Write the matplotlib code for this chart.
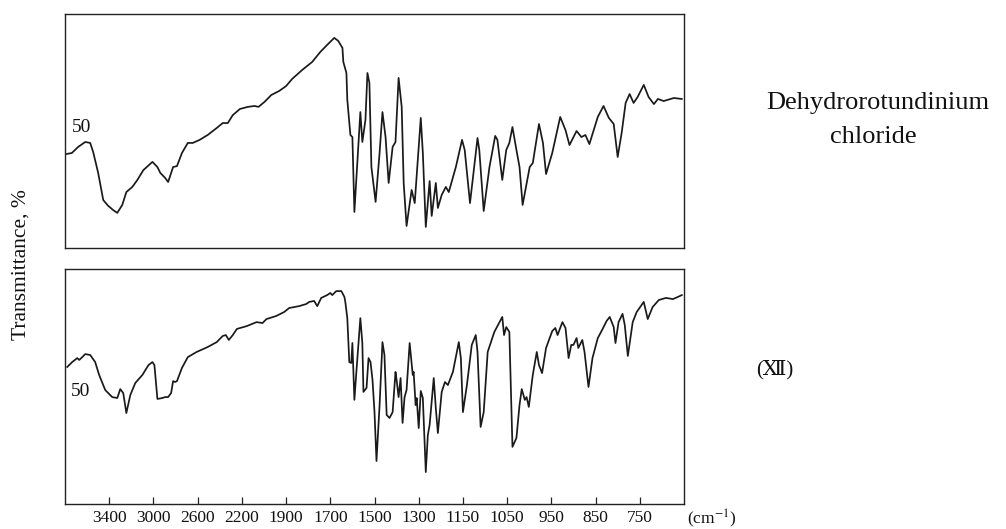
import numpy as np
import matplotlib
matplotlib.use("Agg")
import matplotlib.pyplot as plt

plt.rcParams["mathtext.fontset"] = "stix"

# ---- axis (piecewise grating scale, evenly spaced ticks) ----
tick_wn = [3400, 3000, 2600, 2200, 1900, 1700, 1500, 1300, 1150, 1050, 950, 850, 750]
scale_wn = [3800] + tick_wn + [650]
tick_labels = [str(t) for t in tick_wn]

# ---- upper spectrum ----
top_wn = [3783, 3738, 3681, 3617, 3572, 3545, 3500, 3454, 3409, 3364, 3327, 3282, 3245, 3191,
          3145, 3091, 3009, 2964, 2938, 2893, 2867, 2822, 2787, 2742, 2689, 2644, 2582, 2509,
          2427, 2373, 2327, 2282, 2218, 2160, 2113, 2087, 2047, 2000, 1947, 1900, 1873, 1827,
          1782, 1745, 1714, 1682, 1664, 1645, 1641, 1627, 1623, 1609, 1600, 1591, 1577, 1564,
          1555, 1541, 1532, 1523, 1514, 1495, 1477, 1464, 1450, 1436, 1418, 1405, 1391, 1377,
          1368, 1355, 1332, 1318, 1293, 1286, 1276, 1263, 1256, 1242, 1235, 1222, 1208, 1198,
          1174, 1153, 1146, 1134, 1117, 1113, 1103, 1090, 1077, 1072, 1061, 1052, 1045, 1038,
          1029, 1022, 1015, 999, 992, 978, 969, 962, 948, 930, 918, 909, 893, 882, 873, 864,
          845, 832, 820, 809, 800, 791, 782, 773, 764, 755, 741, 730, 718, 709, 696, 673, 655]
top_T = [40.2, 40.6, 43.2, 45.3, 44.9, 41.0, 32.1, 20.5, 18.0, 16.2, 15.0, 18.4, 23.9, 26.1,
         29.1, 33.3, 36.8, 34.6, 32.1, 29.9, 28.2, 34.6, 35.0, 40.6, 44.9, 44.9, 46.2, 48.3,
         51.3, 53.4, 53.4, 56.8, 59.4, 60.3, 60.7, 60.3, 62.4, 65.4, 67.1, 69.2, 72.2, 76.1,
         79.5, 83.8, 86.8, 89.8, 88.5, 85.5, 79.5, 74.8, 63.3, 48.3, 47.4, 15.4, 37.6, 58.1,
         45.3, 54.7, 74.8, 70.5, 34.6, 19.7, 40.6, 58.1, 47.4, 27.8, 43.2, 45.3, 72.7, 60.3,
         27.8, 9.4, 24.8, 19.2, 55.6, 40.6, 9.0, 28.6, 13.7, 27.8, 17.1, 22.7, 26.1, 23.9,
         34.6, 46.2, 41.9, 19.2, 47.0, 41.9, 15.8, 34.6, 47.9, 46.2, 29.1, 41.9, 44.9, 51.7,
         41.9, 34.6, 18.4, 34.6, 36.3, 53.0, 44.9, 31.6, 40.6, 56.0, 50.4, 44.0, 50.0, 47.4,
         48.3, 44.4, 56.0, 60.7, 55.6, 53.0, 38.9, 49.2, 62.0, 65.8, 62.0, 64.5, 69.7, 64.5,
         61.5, 63.7, 62.8, 64.1, 63.7]

# ---- lower spectrum ----
bot_wn = [3780, 3735, 3689, 3671, 3644, 3617, 3572, 3527, 3491, 3436, 3373, 3327, 3300, 3273,
          3245, 3209, 3164, 3100, 3045, 3009, 2991, 2964, 2920, 2893, 2867, 2840, 2822, 2804,
          2787, 2742, 2689, 2609, 2509, 2427, 2373, 2345, 2318, 2282, 2245, 2167, 2100, 2060,
          2033, 1967, 1913, 1886, 1841, 1809, 1795, 1773, 1759, 1741, 1714, 1700, 1691, 1673,
          1650, 1636, 1632, 1623, 1614, 1605, 1600, 1591, 1582, 1564, 1555, 1550, 1536, 1527,
          1518, 1509, 1500, 1491, 1477, 1464, 1455, 1445, 1432, 1418, 1405, 1400, 1391, 1382,
          1373, 1364, 1355, 1341, 1327, 1323, 1314, 1309, 1300, 1293, 1286, 1276, 1269, 1263,
          1249, 1242, 1235, 1222, 1211, 1201, 1184, 1164, 1157, 1150, 1141, 1130, 1121, 1117,
          1110, 1103, 1094, 1079, 1061, 1057, 1052, 1045, 1038, 1029, 1022, 1017, 1010, 1006,
          1001, 992, 983, 978, 971, 962, 948, 941, 936, 925, 918, 911, 905, 900, 893, 889, 880,
          875, 866, 857, 845, 834, 825, 818, 809, 805, 798, 789, 784, 777, 766, 757, 741, 732,
          721, 707, 691, 675, 664, 655]
bot_T = [58.3, 60.4, 62.1, 61.3, 62.5, 63.8, 63.4, 60.4, 54.9, 48.5, 45.5, 45.1, 48.9, 47.2,
         38.7, 46.4, 51.5, 54.9, 59.1, 60.4, 59.1, 44.7, 45.1, 45.5, 45.5, 47.2, 52.3, 51.9,
         52.3, 57.9, 62.5, 64.7, 66.8, 68.9, 71.5, 71.9, 69.8, 71.9, 74.5, 75.7, 77.4, 77.0,
         78.7, 80.0, 81.7, 83.4, 84.2, 85.1, 86.0, 86.4, 84.2, 87.7, 88.9, 89.8, 88.9, 90.6,
         90.6, 88.1, 86.0, 79.1, 60.4, 60.0, 68.5, 44.3, 56.2, 79.1, 68.5, 47.7, 49.4, 62.1,
         60.4, 52.8, 39.1, 18.3, 42.1, 68.9, 63.4, 37.9, 36.6, 39.1, 56.2, 52.8, 45.5, 53.6,
         34.5, 45.5, 48.5, 68.5, 54.9, 56.2, 42.1, 45.1, 32.3, 48.1, 45.1, 13.6, 29.4, 33.6,
         53.6, 40.8, 30.2, 47.7, 51.9, 50.6, 56.2, 68.9, 62.1, 39.1, 50.6, 67.7, 71.9, 64.7,
         32.8, 39.1, 64.7, 73.2, 79.6, 71.9, 75.3, 73.2, 24.3, 28.1, 42.1, 48.9, 44.3, 45.5,
         41.3, 54.9, 64.7, 59.1, 55.7, 66.4, 73.6, 74.9, 71.9, 77.4, 74.9, 62.1, 67.7, 67.7,
         70.6, 66.4, 69.8, 64.7, 49.8, 62.1, 70.6, 74.5, 77.9, 79.6, 75.3, 68.5, 77.4, 80.9,
         76.2, 63.0, 77.4, 81.7, 86.0, 78.7, 83.8, 86.8, 87.7, 87.2, 88.1, 88.9]

W, H = 1006, 529
wn_asc = np.array(scale_wn[::-1], dtype=float)
pos_asc = np.arange(len(scale_wn), dtype=float)


def fwd(x):
    return np.interp(np.asarray(x, dtype=float), wn_asc, pos_asc)


def inv(p):
    return np.interp(np.asarray(p, dtype=float), pos_asc, wn_asc)


fig = plt.figure(figsize=(W / 100, H / 100), dpi=100)
ax1 = fig.add_axes([65 / W, 1 - 248 / H, 619 / W, 234 / H])
ax2 = fig.add_axes([65 / W, 1 - 504 / H, 619 / W, 235 / H])

serif = ["Liberation Serif", "DejaVu Serif"]

for ax, wn, T in ((ax1, top_wn, top_T), (ax2, bot_wn, bot_T)):
    ax.set_xscale("function", functions=(fwd, inv))
    ax.plot(wn, T, color="#1a1a1a", lw=1.25, solid_joinstyle="round")
    ax.set_xlim(3800, 650)
    ax.set_ylim(0, 100)
    ax.set_yticks([])
    for s in ax.spines.values():
        s.set_linewidth(1.0)
        s.set_color("#222222")

ax1.set_xticks([])
ax2.set_xticks(tick_wn)
ax2.set_xticklabels(tick_labels, family=serif, fontsize=12.5)
ax2.minorticks_off()
ax2.tick_params(axis="x", direction="in", length=5, width=0.9, pad=4, colors="#222222")
for lab in ax2.get_xticklabels():
    lab.set_color("#111111")

ax1.text((82 - 65) / 619, 1 - (127 - 14) / 234, "50", transform=ax1.transAxes,
         ha="center", va="center", family=serif, fontsize=14, color="#111111")
ax2.text((81 - 65) / 619, 1 - (391 - 269) / 235, "50", transform=ax2.transAxes,
         ha="center", va="center", family=serif, fontsize=14, color="#111111")

fig.text(712 / W, 1 - 519 / H, r"(cm$^{-1}$)", ha="center", va="center",
         family=serif, fontsize=12.5, color="#111111")
fig.text(21 / W, 1 - 265 / H, "Transmittance, %", rotation=90, ha="center", va="center",
         family=serif, fontsize=15.5, color="#111111")
fig.text(878 / W, 1 - 103 / H, "Dehydrorotundinium", ha="center", va="center",
         family=serif, fontsize=19, color="#111111")
fig.text(873 / W, 1 - 137 / H, "chloride", ha="center", va="center",
         family=serif, fontsize=19, color="#111111")
fig.text(775 / W, 1 - 370 / H, "(Ⅻ)", ha="center", va="center",
         family=["Liberation Serif", "DejaVu Serif", "Noto Sans CJK JP"], fontsize=15,
         color="#111111")

fig.savefig("out.png", dpi=100, facecolor="white")
